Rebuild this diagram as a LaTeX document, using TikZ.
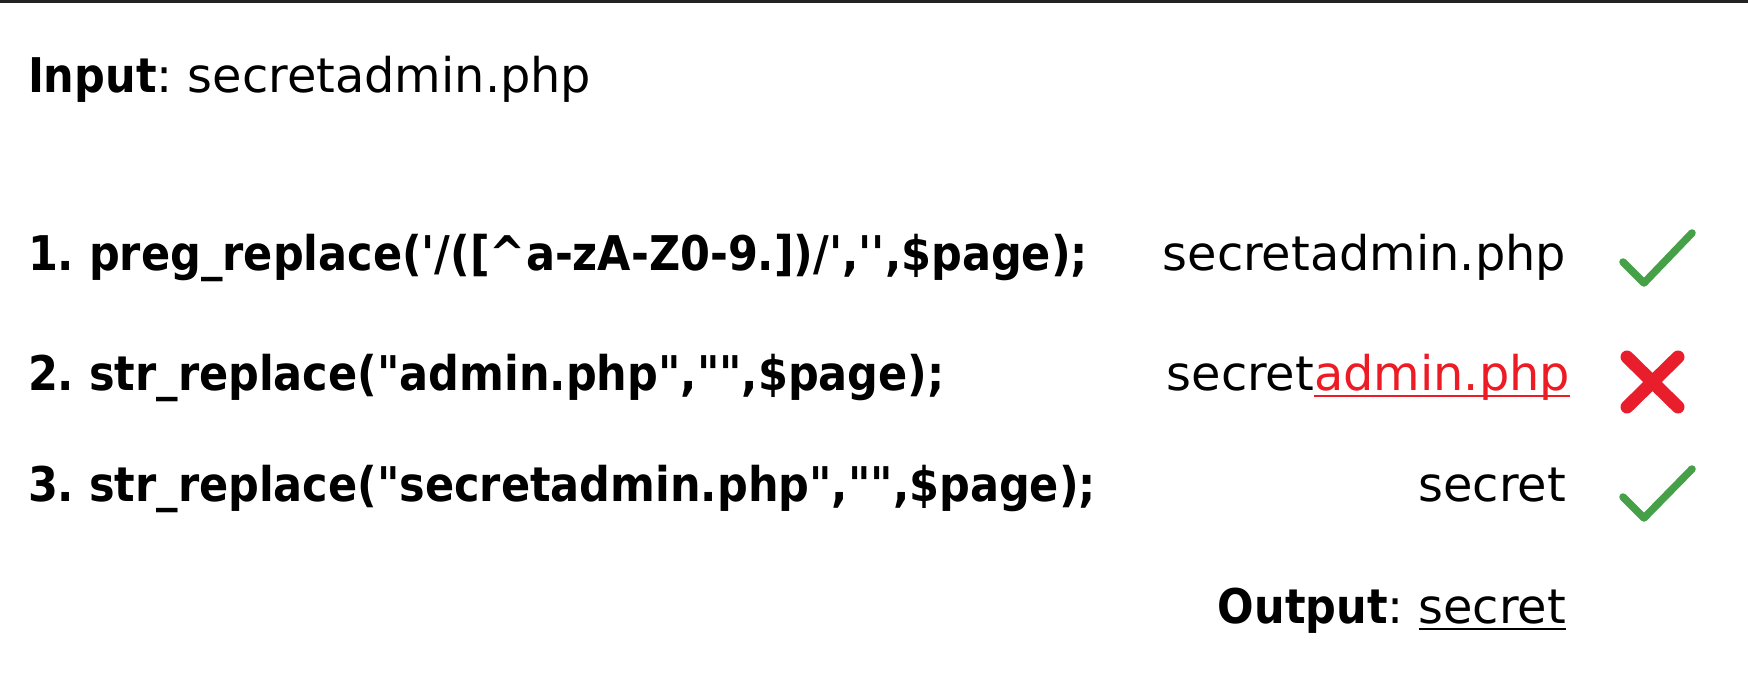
\documentclass[tikz,border=0pt]{standalone}
\usepackage{fontspec}
\setmainfont{DejaVu Sans}[BoldFont={DejaVu Sans Condensed Bold}]
\frenchspacing
\definecolor{barcol}{RGB}{34,34,34}
\definecolor{okgreen}{RGB}{70,160,72}
\definecolor{badred}{RGB}{232,30,45}
\definecolor{hitred}{RGB}{237,28,36}
\newcommand{\dq}{\textquotedbl}
\newcommand{\sq}{\textquotesingle}
\begin{document}
\begin{tikzpicture}[x=1pt,y=-1pt,
  txt/.style={inner sep=0pt, outer sep=0pt, font=\fontsize{47.8}{57}\selectfont},
  tick/.style={draw=okgreen, line width=7.5pt, line cap=round, line join=round},
  cross/.style={draw=badred, line width=13pt, line cap=round},
  uline/.style={line width=2.2pt}]
\useasboundingbox (0,0) rectangle (1748,690);
\fill[white] (0,0) rectangle (1748,690);
\fill[barcol] (0,0) rectangle (1748,3);

% input
\node[txt, anchor=base west] (input) at (28,93) {\textbf{Input}: secretadmin.php};

% filter steps
\node[txt, anchor=base west] (s1) at (28,270)
  {\textbf{1. preg\_replace(\sq/([\textasciicircum a-zA-Z0-9.])/\sq,\sq\sq,\$page);}};
\node[txt, anchor=base west] (s2) at (28,390)
  {\textbf{2. str\_replace(\dq admin.php\dq,\dq\dq,\$page);}};
\node[txt, anchor=base west] (s3) at (28,501)
  {\textbf{3. str\_replace(\dq secretadmin.php\dq,\dq\dq,\$page);}};

% intermediate results
\node[txt, anchor=base east] (r1) at (1566,270) {secretadmin.php};
\node[txt, anchor=base east, text=hitred] (r2b) at (1570,390) {admin.php};
\node[txt, anchor=base east] (r2a) at (r2b.base west) {secret};
\draw[hitred, uline] ([yshift=-6pt]r2b.base west) -- ([yshift=-6pt]r2b.base east);
\node[txt, anchor=base east] (r3) at (1566,501) {secret};

% output
\node[txt, anchor=base east] (outv) at (1566,623) {secret};
\node[txt, anchor=base east] (outl) at ([xshift=-15pt]outv.base west) {\textbf{Output}:};
\draw[uline] ([yshift=-6pt]outv.base west) -- ([yshift=-6pt]outv.base east);

% status marks
\draw[tick] (1623,262) -- (1644,283) -- (1692,233);
\draw[cross] (1627,357) -- (1678,407) (1678,357) -- (1627,407);
\draw[tick] (1623,497) -- (1644,518) -- (1692,469);
\end{tikzpicture}
\end{document}
